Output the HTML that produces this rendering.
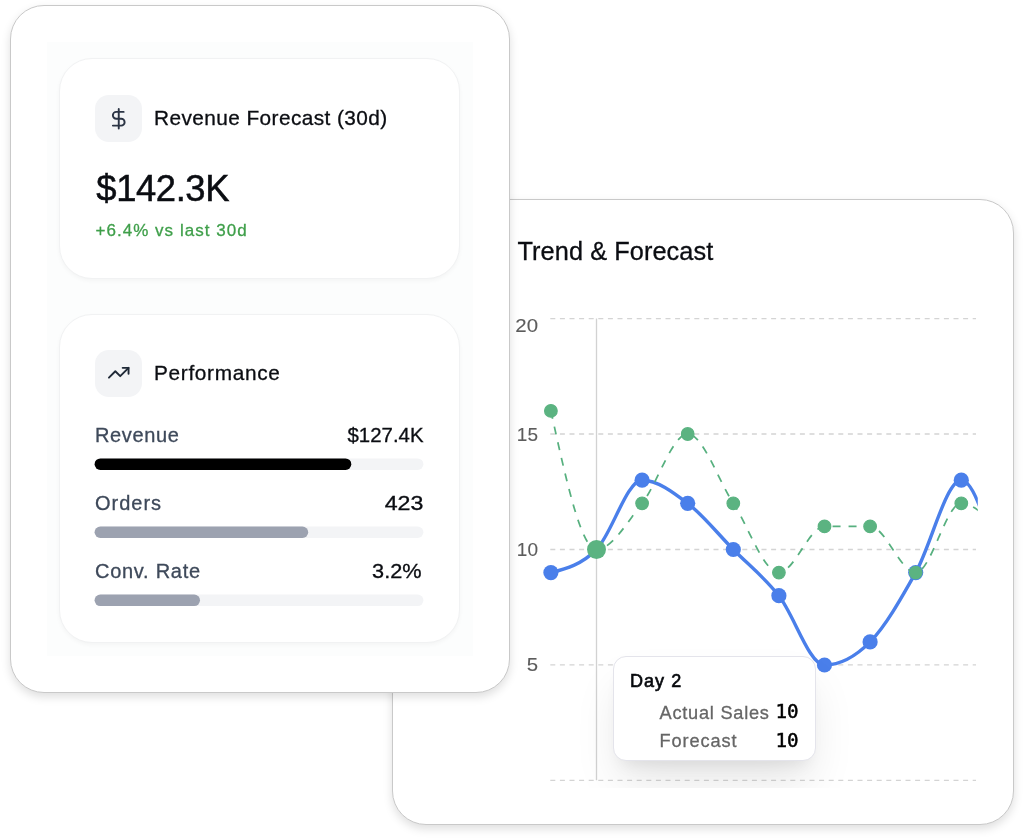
<!DOCTYPE html>
<html lang="en">
<head>
<meta charset="utf-8">
<title>Revenue Forecast Dashboard</title>
<style>
*{box-sizing:border-box;margin:0;padding:0}
html,body{width:1024px;height:840px;overflow:hidden;background:#fff}
body{position:relative;font-family:"Liberation Sans",Arial,sans-serif;color:#0b0d12;-webkit-font-smoothing:antialiased}
.abs{position:absolute}
.chartcard{position:absolute;left:392.2px;top:199px;width:622.3px;height:625.5px;background:#fff;border:1px solid #c9c9c9;border-radius:34px;box-shadow:0 4px 10px rgba(0,0,0,.13)}
.leftcard{position:absolute;left:10px;top:5px;width:500px;height:687.7px;background:#fff;border:1px solid #c9c9c9;border-radius:34px;box-shadow:0 4px 10px rgba(0,0,0,.13)}
.panel{position:absolute;left:47px;top:42px;width:426px;height:613.6px;background:#fcfdfd}
.card{position:absolute;left:59px;width:401px;background:#fff;border:1px solid #f1f2f3;border-radius:33px;box-shadow:0 2px 4px rgba(0,0,0,.035)}
.c1{top:58px;height:220.6px}
.c2{top:314px;height:328.6px}
.ico{position:absolute;left:95px;width:47px;height:47px;border-radius:14px;background:#f3f4f6}
.t{position:absolute;white-space:nowrap;line-height:1;-webkit-text-stroke:.3px currentColor}
.big{color:#0b0d12;-webkit-text-stroke:.5px #0b0d12}
.green{color:#3f9f4a}
.lab{font-size:20px;color:#3e495a}
.val{font-size:20px;color:#0b0d12;text-align:right}
.tip{position:absolute;left:113px;top:356.4px;width:202.5px;height:104.6px;background:#fff;border:1px solid #e4e4eb;border-radius:13px;box-shadow:0 26px 46px -6px rgba(0,0,0,.10),0 11px 16px -8px rgba(0,0,0,.08)}
.ax{font-size:17.6px;color:#5c5c5c;-webkit-text-stroke:.1px #5c5c5c;text-align:right;width:40px;transform:scaleX(1.16);transform-origin:100% 50%}
.mono{font-family:"DejaVu Sans Mono","Liberation Mono",monospace;font-size:19.2px;color:#000;-webkit-text-stroke:.5px #000}
</style>
</head>
<body>
<!-- chart card (behind) -->
<section aria-label="Trend and Forecast chart">
<div class="chartcard"></div>
<div class="t" id="trend" style="left:517.5px;top:238.5px;font-size:25.3px;letter-spacing:.08px;color:#0b0d12">Trend &amp; Forecast</div>
<div class="t ax" style="left:497.5px;top:317.5px">20</div>
<div class="t ax" style="left:497.5px;top:427px;transform:scaleX(1.08)">15</div>
<div class="t ax" style="left:497.5px;top:542px;transform:scaleX(1.08)">10</div>
<div class="t ax" style="left:497.5px;top:657px">5</div>
<svg class="abs" style="left:0;top:0" width="1024" height="840" viewBox="0 0 1024 840">
  <defs><clipPath id="plot"><rect x="540" y="300" width="437.8" height="500"/></clipPath></defs>
  <g stroke="#d4d4d4" stroke-width="1.4" stroke-dasharray="5 4.6" fill="none"><line x1="550.3" x2="976" y1="318.6" y2="318.6"/><line x1="550.3" x2="976" y1="434.0" y2="434.0"/><line x1="550.3" x2="976" y1="549.5" y2="549.5"/><line x1="550.3" x2="976" y1="664.9" y2="664.9"/><line x1="550.3" x2="976" y1="780.4" y2="780.4"/></g>
  <line x1="596.5" x2="596.5" y1="318.5" y2="780.3" stroke="#d2d2d2" stroke-width="1.3"/>
  <g clip-path="url(#plot)">
    <path d="M550.90,572.60 C566.10,568.75 581.30,564.90 596.50,549.50 C611.70,534.10 626.90,480.20 642.10,480.20 C657.30,480.20 672.50,491.75 687.70,503.30 C702.90,514.85 718.10,534.10 733.30,549.50 C748.50,564.90 763.70,576.45 778.90,595.70 C794.10,614.95 809.30,665.00 824.50,665.00 C839.70,665.00 854.90,657.30 870.10,641.90 C885.30,626.50 900.50,599.55 915.70,572.60 C930.90,545.65 946.10,480.20 961.30,480.20 C976.50,480.20 991.70,542.57 1006.90,604.94" fill="none" stroke="#4a7fea" stroke-width="3.4" stroke-linecap="round" stroke-linejoin="round"/>
    <g fill="#4a7fea"><circle cx="550.9" cy="572.6" r="7.6"/><circle cx="596.5" cy="549.5" r="7.6"/><circle cx="642.1" cy="480.2" r="7.6"/><circle cx="687.7" cy="503.3" r="7.6"/><circle cx="733.3" cy="549.5" r="7.6"/><circle cx="778.9" cy="595.7" r="7.6"/><circle cx="824.5" cy="665.0" r="7.6"/><circle cx="870.1" cy="641.9" r="7.6"/><circle cx="915.7" cy="572.6" r="7.6"/><circle cx="961.3" cy="480.2" r="7.6"/></g>
    <path d="M550.90,410.90 C566.10,480.20 581.30,549.50 596.50,549.50 C611.70,549.50 626.90,522.55 642.10,503.30 C657.30,484.05 672.50,434.00 687.70,434.00 C702.90,434.00 718.10,480.20 733.30,503.30 C748.50,526.40 763.70,572.60 778.90,572.60 C794.10,572.60 809.30,526.40 824.50,526.40 C839.70,526.40 854.90,526.40 870.10,526.40 C885.30,526.40 900.50,572.60 915.70,572.60 C930.90,572.60 946.10,503.30 961.30,503.30" fill="none" stroke="#57b07f" stroke-width="1.75" stroke-dasharray="8 8"/>
    <path d="M961.30,503.30 C976.50,503.30 991.70,522.93 1006.90,542.57" fill="none" stroke="#57b07f" stroke-width="1.75" stroke-dasharray="8 8" stroke-dashoffset="3.5"/>
    <g fill="#5bb381" stroke="#5bb381" stroke-width="1.2"><circle cx="550.9" cy="410.9" r="6.3"/><circle cx="596.5" cy="549.5" r="6.3"/><circle cx="642.1" cy="503.3" r="6.3"/><circle cx="687.7" cy="434.0" r="6.3"/><circle cx="733.3" cy="503.3" r="6.3"/><circle cx="778.9" cy="572.6" r="6.3"/><circle cx="824.5" cy="526.4" r="6.3"/><circle cx="870.1" cy="526.4" r="6.3"/><circle cx="915.7" cy="572.6" r="6.3"/><circle cx="961.3" cy="503.3" r="6.3"/></g>
    <circle cx="596.5" cy="549.5" r="9.5" fill="#5bb381"/>
  </g>
</svg>
<!-- tooltip -->
<div class="abs" style="left:500px;top:300px;width:514px;height:487.6px;overflow:hidden"><div class="tip"></div></div>
<div class="t" id="day2" style="left:630px;top:672.4px;font-size:18px;letter-spacing:1.05px;color:#07090d;-webkit-text-stroke:.62px #07090d">Day 2</div>
<div class="t" id="as" style="left:659.5px;top:703.7px;font-size:18.2px;letter-spacing:.76px;color:#666;-webkit-text-stroke:.3px #666">Actual Sales</div>
<div class="t" id="fc" style="left:659.5px;top:731.8px;font-size:18.2px;letter-spacing:.9px;color:#666;-webkit-text-stroke:.3px #666">Forecast</div>
<div class="t mono" style="left:775.5px;top:702.4px">10</div>
<div class="t mono" style="left:775.5px;top:730.9px">10</div>
</section>

<!-- left card (front) -->
<section aria-label="Revenue summary">
<div class="leftcard"></div>
<div class="panel"></div>
<div class="card c1"></div>
<div class="card c2"></div>

<div class="ico" style="top:94.5px"></div>
<svg class="abs" style="left:106.95px;top:106.75px" width="23.5" height="23.5" viewBox="0 0 24 24" fill="none" stroke="#2b3445" stroke-width="1.95" stroke-linecap="round" stroke-linejoin="round"><line x1="12" y1="2" x2="12" y2="22"/><path d="M17 5H9.5a3.5 3.5 0 0 0 0 7h5a3.5 3.5 0 0 1 0 7H6"/></svg>
<div class="t" id="title1" style="left:154px;top:107.5px;font-size:20.8px;letter-spacing:.43px">Revenue Forecast (30d)</div>
<div class="t big" id="big" style="left:96.3px;top:171.3px;font-size:36.4px;letter-spacing:-.4px">$142.3K</div>
<div class="t green" id="green" style="left:95.5px;top:222px;font-size:17px;letter-spacing:1.03px">+6.4% vs last 30d</div>

<div class="ico" style="top:350px"></div>
<svg class="abs" style="left:106.9px;top:361.25px" width="23.5" height="23.5" viewBox="0 0 24 24" fill="none" stroke="#1f2937" stroke-width="1.95" stroke-linecap="round" stroke-linejoin="round"><polyline points="22 7 13.5 15.5 8.5 10.5 2 17"/><polyline points="16 7 22 7 22 13"/></svg>
<div class="t" id="perf" style="left:154px;top:362.5px;font-size:20.8px;letter-spacing:.68px">Performance</div>

<svg class="abs" style="left:0;top:0" width="520" height="700" viewBox="0 0 520 700">
  <g fill="#f3f4f6"><rect x="94.6" y="458.4" width="328.8" height="11.5" rx="5.75"/><rect x="94.6" y="526.5" width="328.8" height="11.5" rx="5.75"/><rect x="94.6" y="594.6" width="328.8" height="11.5" rx="5.75"/></g>
  <rect x="94.6" y="458.4" width="256.7" height="11.5" rx="5.75" fill="#000"/>
  <rect x="94.6" y="526.5" width="213.6" height="11.5" rx="5.75" fill="#9ca2b0"/>
  <rect x="94.6" y="594.6" width="105.4" height="11.5" rx="5.75" fill="#9ca2b0"/>
</svg>
<div class="t lab" id="rev" style="left:95px;top:424.5px;letter-spacing:.63px">Revenue</div>
<div class="t val" id="revv" style="right:600.7px;top:424.5px;transform:scaleX(1.02);transform-origin:100% 50%">$127.4K</div>

<div class="t lab" id="ord" style="left:95px;top:492.5px;letter-spacing:1px">Orders</div>
<div class="t val" id="ordv" style="right:601px;top:492.5px;transform:scaleX(1.16);transform-origin:100% 50%">423</div>

<div class="t lab" id="conv" style="left:95px;top:560.5px;letter-spacing:.72px">Conv. Rate</div>
<div class="t val" id="convv" style="right:602px;top:560.5px;transform:scaleX(1.085);transform-origin:100% 50%">3.2%</div>
</section>
</body>
</html>
